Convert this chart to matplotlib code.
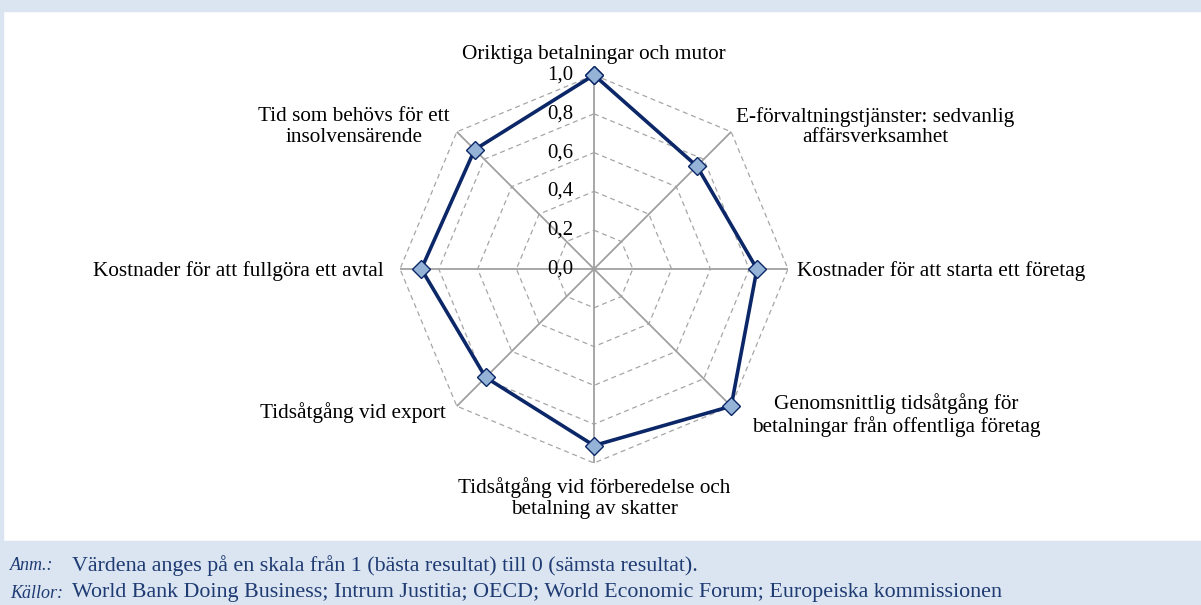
import numpy as np
import matplotlib.pyplot as plt
from matplotlib.patches import Rectangle

plt.rcParams['font.family'] = ['Liberation Serif', 'DejaVu Serif']

categories = [
    "Oriktiga betalningar och mutor",
    "E-förvaltningstjänster: sedvanlig\naffärsverksamhet",
    "Kostnader för att starta ett företag",
    "Genomsnittlig tidsåtgång för\nbetalningar från offentliga företag",
    "Tidsåtgång vid förberedelse och\nbetalning av skatter",
    "Tidsåtgång vid export",
    "Kostnader för att fullgöra ett avtal",
    "Tid som behövs för ett\ninsolvensärende",
]
values = [1.00, 0.75, 0.84, 1.00, 0.91, 0.79, 0.89, 0.87]
rings = [0.0, 0.2, 0.4, 0.6, 0.8, 1.0]
ring_labels = ["0,0", "0,2", "0,4", "0,6", "0,8", "1,0"]

W, H = 1201, 605
fig = plt.figure(figsize=(W / 100, H / 100), dpi=100)

# backgrounds: title strip, left border, footer band
band = '#dbe5f1'
fig.patches.append(Rectangle((0, 1 - 11 / H), 1, 11 / H, transform=fig.transFigure, color=band, zorder=0))
fig.patches.append(Rectangle((0, 0), 3 / W, 1, transform=fig.transFigure, color=band, zorder=0))
fig.patches.append(Rectangle((0, 0), 1, 64 / H, transform=fig.transFigure, color=band, zorder=0))

cx, cy, R = 594, 269, 194
ax = fig.add_axes([(cx - R) / W, (H - cy - R) / H, 2 * R / W, 2 * R / H], projection='polar')
ax.set_theta_offset(np.pi / 2)
ax.set_theta_direction(-1)
ax.set_ylim(0, 1)
ax.axis('off')

n = len(categories)
angles = np.arange(n) * 2 * np.pi / n
closed = np.append(angles, angles[0])

# grid
for r in rings[1:]:
    ax.plot(closed, [r] * (n + 1), color='#a6a6a6', lw=0.9, ls=(0, (4, 3)), zorder=1)
for a in angles:
    ax.plot([a, a], [0, 1], color='#a0a0a0', lw=1.3, zorder=2)

# series
ax.plot(closed, values + values[:1], color='#0c2768', lw=2.6, zorder=3,
        marker='D', markersize=9, markerfacecolor='#95b3d7', markeredgecolor='#0c2768',
        markeredgewidth=1.0, clip_on=False)

# ring labels
for r, lab in zip(rings, ring_labels):
    ax.annotate(lab, xy=(0, r), xytext=(-15, 0), textcoords='offset points',
                ha='right', va='center', fontsize=15, color='#000000', zorder=4)

# category labels (pixel positions)
label_pos = [
    (594, 55, 'center'),
    (875, 127, 'center'),
    (797, 271, 'left'),
    (896, 415, 'center'),
    (594, 498, 'center'),
    (446, 413, 'right'),
    (384, 271, 'right'),
    (354, 127, 'center'),
]
for lab, (x, y, ha) in zip(categories, label_pos):
    fig.text(x / W, 1 - y / H, lab, ha=ha, va='center', ma='center',
             fontsize=15.3, linespacing=1.12)

# footer
note_color = '#1f3b73'
fig.text(10 / W, 1 - 566 / H, "Anm.:", style='italic', fontsize=13, color=note_color, va='center')
fig.text(72 / W, 1 - 566 / H, "Värdena anges på en skala från 1 (bästa resultat) till 0 (sämsta resultat).",
         fontsize=15.8, color=note_color, va='center')
fig.text(10 / W, 1 - 593 / H, "Källor:", style='italic', fontsize=13, color=note_color, va='center')
fig.text(72 / W, 1 - 593 / H,
         "World Bank Doing Business; Intrum Justitia; OECD; World Economic Forum; Europeiska kommissionen",
         fontsize=15.8, color=note_color, va='center')

fig.savefig('out.png', dpi=100)
